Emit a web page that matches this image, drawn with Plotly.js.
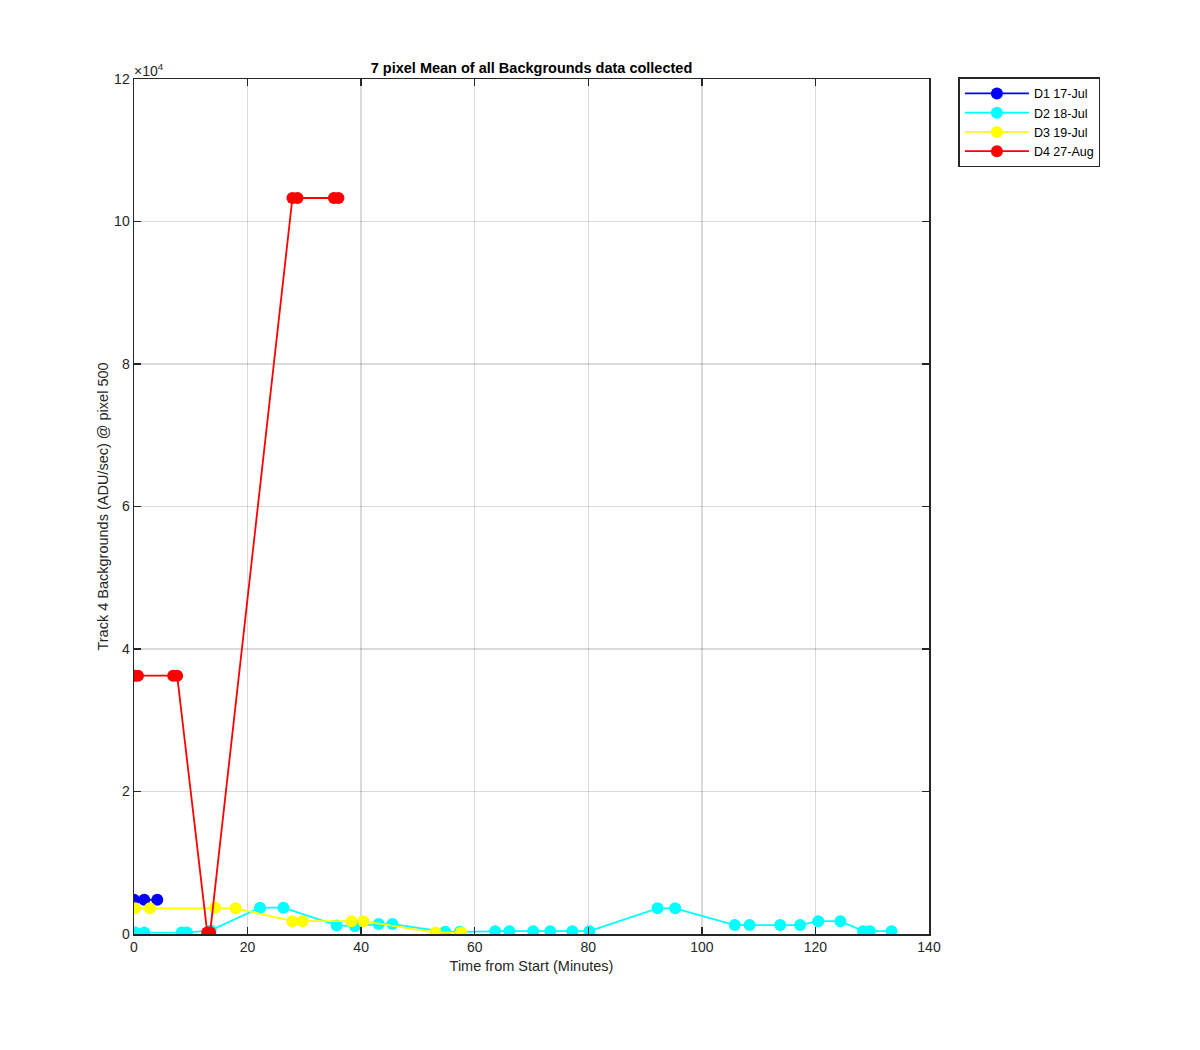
<!DOCTYPE html>
<html>
<head>
<meta charset="utf-8">
<script src="https://cdn.plot.ly/plotly-3.0.1.min.js"></script>
<style>html,body{margin:0;padding:0;background:#fff;}#chart{width:1200px;height:1050px;}</style>
</head>
<body>
<div id="chart"></div>
<script>
// D1 17-Jul
const d1Time = [0, 1.8, 4.1];
const d1Val  = [4800, 4800, 4800];
// D2 18-Jul
const d2Time = [0.2, 1.8, 8.4, 9.3, 13.5, 22.2, 26.3, 35.7, 38.9, 43.1, 45.5, 54.8, 57.4, 63.6, 66.1, 70.3, 73.3, 77.2, 80.2, 92.2, 95.3, 105.8, 108.4, 113.8, 117.3, 120.5, 124.4, 128.4, 129.6, 133.4];
const d2Val  = [200, 200, 200, 200, 500, 3700, 3700, 1200, 1100, 1400, 1400, 300, 300, 400, 400, 400, 400, 400, 400, 3600, 3600, 1250, 1250, 1250, 1250, 1800, 1800, 400, 400, 400];
// D3 19-Jul
const d3Time = [0.2, 2.8, 14.3, 17.9, 27.9, 29.7, 38.3, 40.4, 53.1, 57.6];
const d3Val  = [3600, 3600, 3700, 3600, 1800, 1800, 1800, 1800, 200, 200];
// D4 27-Aug
const d4Time = [0.1, 0.7, 6.9, 7.6, 12.9, 13.4, 27.9, 28.8, 35.2, 36.0];
const d4Val  = [36250, 36250, 36250, 36250, 200, 200, 103300, 103300, 103300, 103300];

const seriesNames = ['D1 17-Jul', 'D2 18-Jul', 'D3 19-Jul', 'D4 27-Aug'];
const seriesColors = ['#0000ff', '#00ffff', '#ffff00', '#ff0000'];

const yTickVals = [0, 20000, 40000, 60000, 80000, 100000, 120000];
const yTickText = ['0', '2', '4', '6', '8', '10', '12'];
const xTickVals = [0, 20, 40, 60, 80, 100, 120, 140];

const xs = [d1Time, d2Time, d3Time, d4Time];
const ys = [d1Val, d2Val, d3Val, d4Val];

const traces = xs.map((x, i) => ({
  x: x, y: ys[i], name: seriesNames[i], type: 'scatter', mode: 'lines+markers',
  line: {color: seriesColors[i], width: 1.8},
  marker: {color: seriesColors[i], size: 12, line: {width: 0}}
}));

const axisCommon = {
  showline: true, linecolor: '#262626', linewidth: 1.5, mirror: 'ticks',
  ticks: 'inside', ticklen: 7, tickcolor: '#262626', tickwidth: 1.3,
  showgrid: true, gridcolor: 'rgba(38,38,38,0.17)', gridwidth: 1.5,
  zeroline: false, tickfont: {family: 'Liberation Sans, Arial', size: 14, color: '#262626'}
};

const layout = {
  width: 1200, height: 1050,
  paper_bgcolor: '#ffffff', plot_bgcolor: '#ffffff',
  margin: {l: 134, r: 271, t: 79, b: 116},
  showlegend: true,
  font: {family: 'Liberation Sans, Arial', color: '#262626'},
  title: {text: '<b>7 pixel Mean of all Backgrounds data collected</b>', x: 0.5, xanchor: 'center', xref: 'paper', y: 0.9355, yref: 'container', yanchor: 'middle', font: {size: 14.5, color: '#000'}},
  xaxis: Object.assign({}, axisCommon, {
    range: [0, 140], tickvals: xTickVals, ticktext: xTickVals.map(String),
    title: {text: 'Time from Start (Minutes)', standoff: 6, font: {size: 14.5, color: '#262626'}}
  }),
  yaxis: Object.assign({}, axisCommon, {
    range: [0, 120000], tickvals: yTickVals, ticktext: yTickText,
    title: {text: 'Track 4 Backgrounds (ADU/sec) @ pixel 500', standoff: 2, font: {size: 14.5, color: '#262626'}}
  }),
  legend: {
    x: 1.037, xanchor: 'left', y: 1.002, yanchor: 'top',
    bordercolor: '#262626', borderwidth: 1.5, bgcolor: '#fff',
    font: {size: 12.5, color: '#000'}, tracegroupgap: 0, itemwidth: 64
  },
  annotations: [{
    text: '×10<sup>4</sup>', xref: 'paper', yref: 'paper', x: 0, y: 1, xanchor: 'left', yanchor: 'bottom',
    showarrow: false, font: {size: 14, color: '#262626'}, xshift: -2, yshift: -2
  }]
};

Plotly.newPlot('chart', traces, layout, {displayModeBar: false, staticPlot: true});
</script>
</body>
</html>
